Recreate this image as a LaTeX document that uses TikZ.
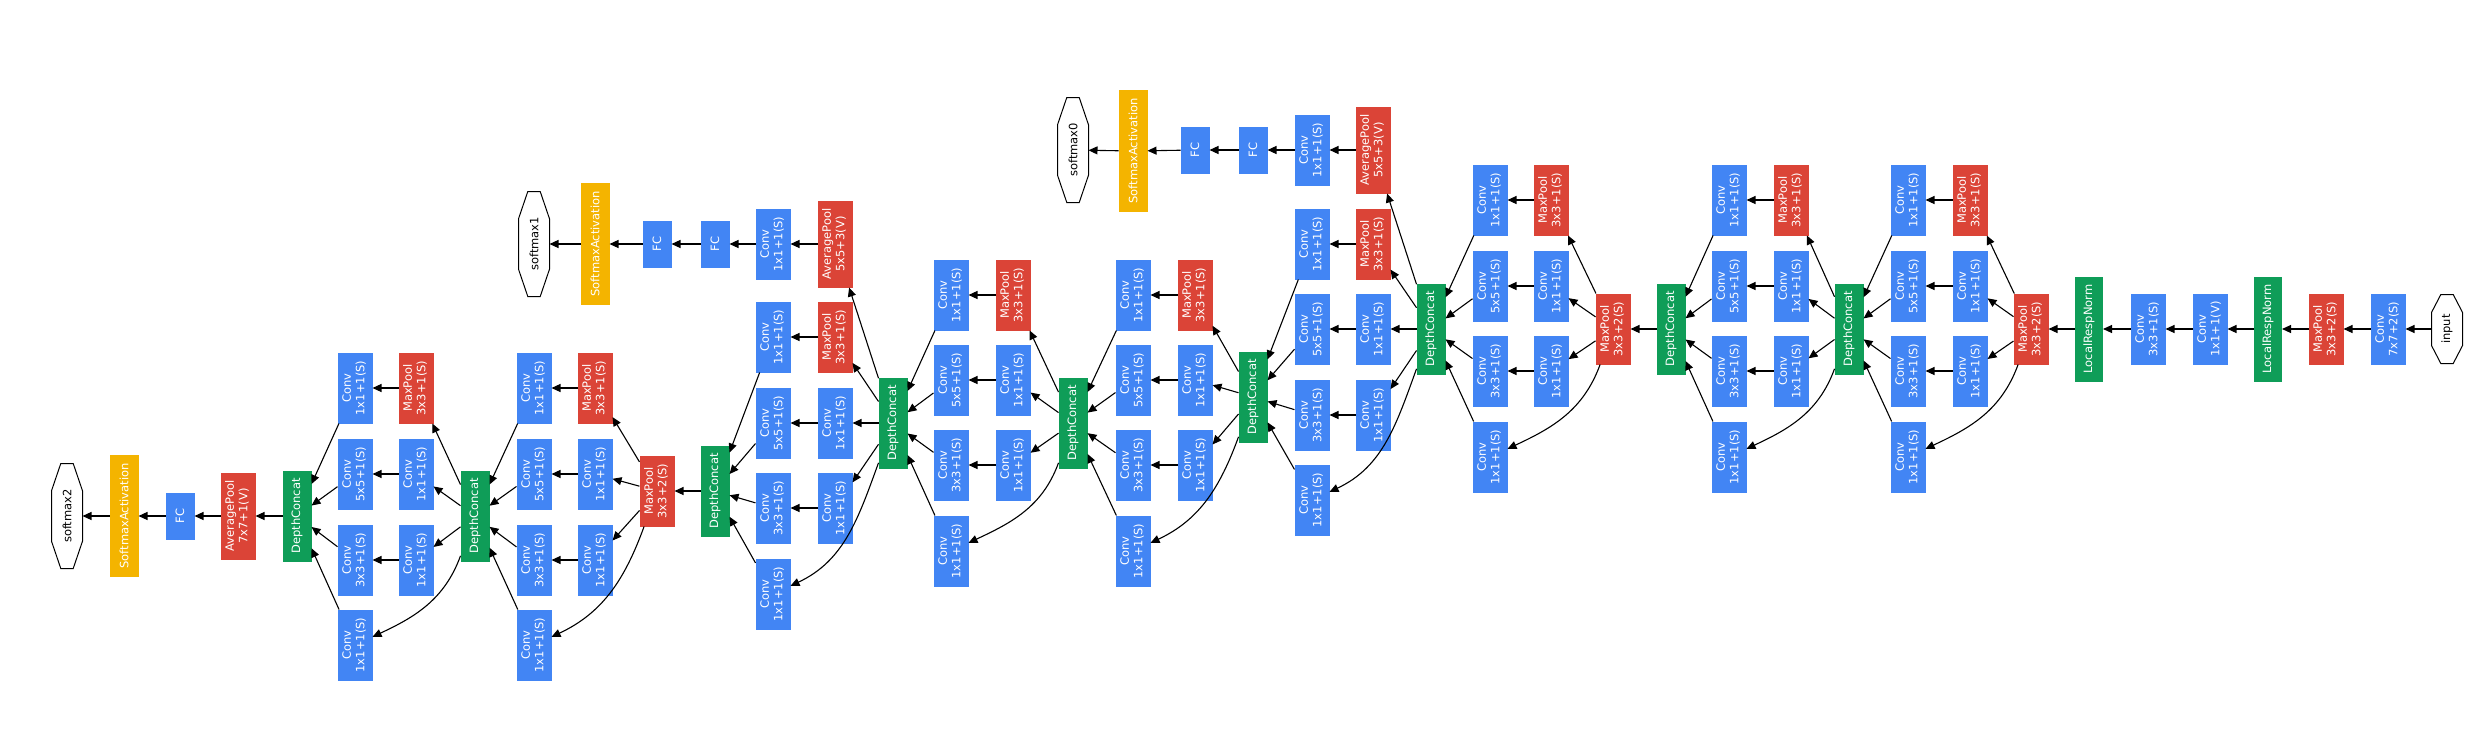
\documentclass[tikz,border=0pt]{standalone}
\usepackage{fontspec}
\setmainfont{DejaVu Sans}
\usepackage{graphicx}
\usetikzlibrary{arrows.meta,calc}
\definecolor{gblue}{HTML}{4285F4}
\definecolor{gred}{HTML}{DB4437}
\definecolor{ggreen}{HTML}{0F9D58}
\definecolor{gyellow}{HTML}{F4B400}
\newcommand\twoline[2]{\rotatebox{90}{\begin{tabular}{@{}c@{}}#1\\#2\end{tabular}}}
\newcommand\oneline[1]{\rotatebox{90}{#1}}
\tikzset{
 every node/.style={font=\fontsize{11.5}{13.5}\selectfont},
 blk/.style={rectangle, inner sep=0pt, outer sep=0pt, text=white},
 convbox/.style={blk, fill=gblue, minimum width=35pt, minimum height=71pt},
 poolbox/.style={blk, fill=gred, minimum width=35pt, minimum height=71pt},
 avgbox/.style={blk, fill=gred, minimum width=35pt, minimum height=87pt},
 catbox/.style={blk, fill=ggreen, minimum width=29pt, minimum height=91pt},
 lrnbox/.style={blk, fill=ggreen, minimum width=28pt, minimum height=105pt},
 fcbox/.style={blk, fill=gblue, minimum width=29pt, minimum height=47pt},
 smbox/.style={blk, fill=gyellow, minimum width=29pt, minimum height=122pt},
 octbox/.style={rectangle, inner sep=0pt, outer sep=0pt, text=black, minimum width=31pt, minimum height=105pt},
 arr/.style={draw=black, line width=1.1pt, -{Triangle[length=9pt,width=8pt]}},
 octline/.style={draw=black, line width=1pt},
}
\newcommand\drawoct[1]{\draw[octline] ($(#1.north west)!0.3!(#1.north east)$) -- ($(#1.north west)!0.7!(#1.north east)$) -- ($(#1.north east)!0.26!(#1.south east)$) -- ($(#1.north east)!0.74!(#1.south east)$) -- ($(#1.south west)!0.7!(#1.south east)$) -- ($(#1.south west)!0.3!(#1.south east)$) -- ($(#1.north west)!0.74!(#1.south west)$) -- ($(#1.north west)!0.26!(#1.south west)$) -- cycle;}
\newcommand\mkincep[8]{%
  \node[poolbox] (#1mp) at (#3,#5) {\twoline{MaxPool}{3x3+1(S)}};
  \node[convbox] (#1p) at (#3,#6) {\twoline{Conv}{1x1+1(S)}};
  \node[convbox] (#1q) at (#3,#7) {\twoline{Conv}{1x1+1(S)}};
  \node[convbox] (#1a) at (#4,#5) {\twoline{Conv}{1x1+1(S)}};
  \node[convbox] (#1b) at (#4,#6) {\twoline{Conv}{5x5+1(S)}};
  \node[convbox] (#1c) at (#4,#7) {\twoline{Conv}{3x3+1(S)}};
  \node[convbox] (#1d) at (#4,#8) {\twoline{Conv}{1x1+1(S)}};
  \draw[arr] (#2) -- (#1mp);
  \draw[arr] (#2) -- (#1p);
  \draw[arr] (#2) -- (#1q);
  \draw[arr] (#2) to[out=-110,in=25] (#1d);
  \draw[arr] (#1mp) -- (#1a);
  \draw[arr] (#1p) -- (#1b);
  \draw[arr] (#1q) -- (#1c);
}
\newcommand\mkcat[4]{%
  \node[catbox] (#2) at (#3,#4) {\oneline{DepthConcat}};
  \draw[arr] (#1a) -- (#2);
  \draw[arr] (#1b) -- (#2);
  \draw[arr] (#1c) -- (#2);
  \draw[arr] (#1d) -- (#2);
}
\begin{document}
\begin{tikzpicture}[x=1pt,y=-1pt]
\useasboundingbox (0,0) rectangle (2486,736);
% stem
\node[octbox, minimum height=69pt] (input) at (2447,329) {\oneline{input}};
\drawoct{input}
\node[convbox] (c1) at (2388,329) {\twoline{Conv}{7x7+2(S)}};
\node[poolbox] (p1) at (2326,329) {\twoline{MaxPool}{3x3+2(S)}};
\node[lrnbox] (n1) at (2268,329) {\oneline{LocalRespNorm}};
\node[convbox] (c2) at (2210,329) {\twoline{Conv}{1x1+1(V)}};
\node[convbox] (c3) at (2148,329) {\twoline{Conv}{3x3+1(S)}};
\node[lrnbox] (n2) at (2089,329) {\oneline{LocalRespNorm}};
\node[poolbox] (p2) at (2031,329) {\twoline{MaxPool}{3x3+2(S)}};
\draw[arr] (input) -- (c1);
\draw[arr] (c1) -- (p1);
\draw[arr] (p1) -- (n1);
\draw[arr] (n1) -- (c2);
\draw[arr] (c2) -- (c3);
\draw[arr] (c3) -- (n2);
\draw[arr] (n2) -- (p2);
% 3a, 3b
\mkincep{ia}{p2}{1970}{1908}{200}{286}{371}{457}
\mkcat{ia}{ca}{1849}{329}
\mkincep{ib}{ca}{1791}{1729}{200}{286}{371}{457}
\mkcat{ib}{cb}{1671}{329}
\node[poolbox] (p3) at (1613,329) {\twoline{MaxPool}{3x3+2(S)}};
\draw[arr] (cb) -- (p3);
% 4a
\mkincep{ic}{p3}{1551}{1490}{200}{286}{371}{457}
\mkcat{ic}{cc}{1431}{329}
% aux 0
\node[avgbox] (a0) at (1373,150) {\twoline{AveragePool}{5x5+3(V)}};
\node[convbox] (a0c) at (1312,150) {\twoline{Conv}{1x1+1(S)}};
\node[fcbox] (a0f1) at (1253,150) {\oneline{FC}};
\node[fcbox] (a0f2) at (1195,150) {\oneline{FC}};
\node[smbox] (a0s) at (1133,151) {\oneline{SoftmaxActivation}};
\node[octbox] (sm0) at (1073,150) {\oneline{softmax0}};
\drawoct{sm0}
\draw[arr] (cc) -- (a0);
\draw[arr] (a0) -- (a0c);
\draw[arr] (a0c) -- (a0f1);
\draw[arr] (a0f1) -- (a0f2);
\draw[arr] (a0f2) -- (a0s);
\draw[arr] (a0s) -- (sm0);
% 4b, 4c, 4d
\mkincep{id}{cc}{1373}{1312}{244}{329}{415}{500}
\mkcat{id}{cd}{1253}{397}
\mkincep{ie}{cd}{1195}{1133}{295}{380}{465}{551}
\mkcat{ie}{ce}{1073}{423}
\mkincep{if}{ce}{1013}{951}{295}{380}{465}{551}
\mkcat{if}{cf}{893}{423}
% aux 1
\node[avgbox] (a1) at (835,244) {\twoline{AveragePool}{5x5+3(V)}};
\node[convbox] (a1c) at (773,244) {\twoline{Conv}{1x1+1(S)}};
\node[fcbox] (a1f1) at (715,244) {\oneline{FC}};
\node[fcbox] (a1f2) at (657,244) {\oneline{FC}};
\node[smbox] (a1s) at (595,244) {\oneline{SoftmaxActivation}};
\node[octbox] (sm1) at (534,244) {\oneline{softmax1}};
\drawoct{sm1}
\draw[arr] (cf) -- (a1);
\draw[arr] (a1) -- (a1c);
\draw[arr] (a1c) -- (a1f1);
\draw[arr] (a1f1) -- (a1f2);
\draw[arr] (a1f2) -- (a1s);
\draw[arr] (a1s) -- (sm1);
% 4e
\mkincep{ig}{cf}{835}{773}{337}{423}{508}{594}
\mkcat{ig}{cg}{715}{491}
\node[poolbox] (p4) at (657,491) {\twoline{MaxPool}{3x3+2(S)}};
\draw[arr] (cg) -- (p4);
% 5a, 5b
\mkincep{ih}{p4}{595}{534}{388}{474}{560}{645}
\mkcat{ih}{ch}{475}{516}
\mkincep{ii}{ch}{416}{355}{388}{474}{560}{645}
\mkcat{ii}{ci}{297}{516}
% head
\node[avgbox] (a2) at (238,516) {\twoline{AveragePool}{7x7+1(V)}};
\node[fcbox] (f2) at (180,516) {\oneline{FC}};
\node[smbox] (s2) at (124,516) {\oneline{SoftmaxActivation}};
\node[octbox] (sm2) at (67,516) {\oneline{softmax2}};
\drawoct{sm2}
\draw[arr] (ci) -- (a2);
\draw[arr] (a2) -- (f2);
\draw[arr] (f2) -- (s2);
\draw[arr] (s2) -- (sm2);
\end{tikzpicture}
\end{document}
